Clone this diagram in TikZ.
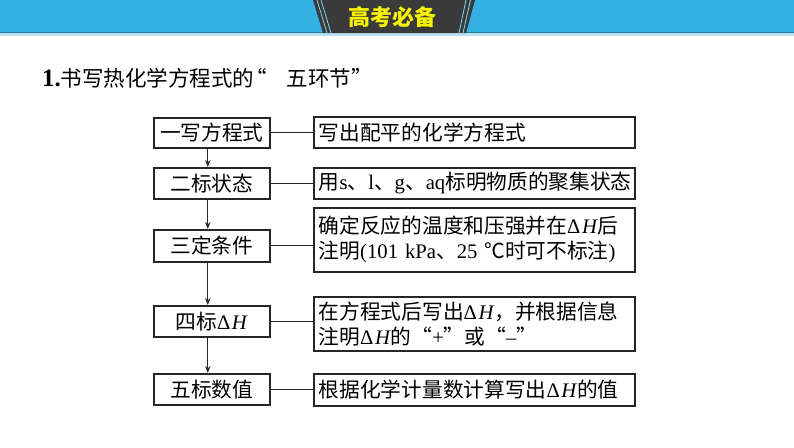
\documentclass[tikz,border=0pt]{standalone}
\usetikzlibrary{arrows.meta}
\usepackage{fontspec}
\setmainfont{Liberation Serif}
\newfontfamily\song{Noto Sans CJK SC}
\newfontfamily\hei{Noto Sans CJK SC}
\newcommand\dltH{{\rmfamily\upshape Δ\kern1.5pt\textit{H}}}
\newcommand\lt[1]{{\rmfamily #1}}
\newcommand\fwq[1]{{\addfontfeatures{RawFeature=+fwid}#1}}
\definecolor{bandblue}{HTML}{35B0E2}
\definecolor{banddark}{HTML}{3A3A3A}
\definecolor{stripe}{HTML}{7FD8F0}
\definecolor{titleyellow}{HTML}{F6F200}
\begin{document}
\begin{tikzpicture}[x=1pt,y=-1pt,
  lbox/.style={draw=black!85,line width=1.6pt,minimum width=116pt,anchor=north west,inner sep=0pt,font=\fontsize{20.7}{24}\selectfont\song},
  rbox/.style={draw=black!85,line width=1.6pt,anchor=north west,inner xsep=5pt,inner ysep=0pt,text width=311pt,align=left,font=\fontsize{20.7}{25}\selectfont\song},
  link/.style={draw=black!85,line width=1.3pt},
  arr/.style={draw=black!85,line width=1.2pt,-{Stealth[length=7pt,width=5.5pt]}}]
\useasboundingbox (0,0) rectangle (794,447);
% header band
\fill[bandblue] (0,0) rectangle (794,33);
\fill[bandblue!70!black] (0,31.5) rectangle (794,33);
\fill[bandblue!35!white] (0,33) rectangle (794,35.5);
\fill[banddark] (313,0) -- (475,0) -- (466,33) -- (323,33) -- cycle;
\draw[stripe,line width=0.8pt] (317,0) -- (327,33) (321,0) -- (331,33);
\draw[stripe,line width=0.8pt] (466,0) -- (459,33) (470.5,0) -- (463,33);
\node[font=\fontsize{22}{24}\selectfont\hei\bfseries,text=titleyellow] (title) at (392,17.5) {高考必备};
% heading
\node[anchor=west,inner sep=0pt] (head) at (42,78) {{\fontsize{25}{28}\selectfont\bfseries 1.}{\fontsize{21.5}{24}\selectfont\hei 书写热化学方程式的\makebox[1.5em][l]{\kern-0.4em“}五环节\makebox[0.75em][l]{”}}};
% left boxes
\node[lbox,minimum height=30pt] (l1) at (153,117) {一写方程式};
\node[lbox,minimum height=31pt] (l2) at (153,167) {二标状态};
\node[lbox,minimum height=32pt] (l3) at (153,229) {三定条件};
\node[lbox,minimum height=31pt] (l4) at (153,305) {四标\dltH};
\node[lbox,minimum height=31pt] (l5) at (153,373) {五标数值};
% right boxes
\node[rbox,minimum height=31pt] (r1) at (313,116) {写出配平的化学方程式};
\node[rbox,minimum height=31pt] (r2) at (313,167) {用\lt{s}、\lt{l}、\lt{g}、\lt{aq}标明物质的聚集状态};
\node[rbox,minimum height=64pt] (r3) at (313,207) {确定反应的温度和压强并在\dltH 后\\注明\lt{(101 kPa}、\lt{25 }℃时可不标注\lt{)}};
\node[rbox,minimum height=54pt] (r4) at (313,296) {在方程式后写出\dltH，并根据信息\\注明\dltH 的\fwq{“}\lt{+}\fwq{”}或\fwq{“}\lt{–}\fwq{”}};
\node[rbox,minimum height=32pt] (r5) at (313,373) {根据化学计量数计算写出\dltH 的值};
% arrows
\draw[arr] ([xshift=-4pt]l1.south) -- ([xshift=-4pt]l2.north);
\draw[arr] ([xshift=-4pt]l2.south) -- ([xshift=-4pt]l3.north);
\draw[arr] ([xshift=-4pt]l3.south) -- ([xshift=-4pt]l4.north);
\draw[arr] ([xshift=-4pt]l4.south) -- ([xshift=-4pt]l5.north);
% links
\draw[link] (l1.east) -- (l1.east -| r1.west);
\draw[link] (l2.east) -- (l2.east -| r2.west);
\draw[link] (l3.east) -- (l3.east -| r3.west);
\draw[link] (l4.east) -- (l4.east -| r4.west);
\draw[link] (l5.east) -- (l5.east -| r5.west);
\end{tikzpicture}
\end{document}
